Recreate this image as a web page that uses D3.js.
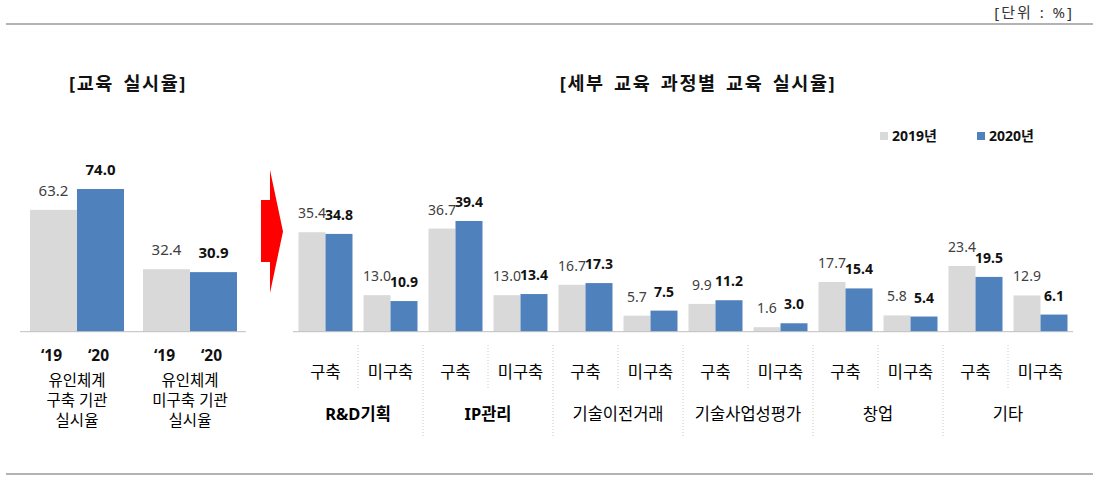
<!DOCTYPE html>
<html><head><meta charset="utf-8">
<script src="https://cdn.jsdelivr.net/npm/d3@7"></script>
<style>
html,body{margin:0;padding:0;background:#fff;}
svg{display:block;font-family:'Noto Sans','Noto Sans CJK KR',sans-serif;}
</style></head>
<body>
<svg id="c" width="1101" height="486"></svg>
<script>
// ---- data ----
const years = ['2019', '2020'];
const legendLabels = ['2019년', '2020년'];
const leftYearLabels = ['‘19', '‘20'];
const leftCategories = [['유인체계', '구축 기관', '실시율'], ['유인체계', '미구축 기관', '실시율']];
const left2019 = [63.2, 32.4];
const left2020 = [74.0, 30.9];
const groups = ['R&D기획', 'IP관리', '기술이전거래', '기술사업성평가', '창업', '기타'];
const subs = ['구축', '미구축'];
const right2019 = [35.4, 13.0, 36.7, 13.0, 16.7, 5.7, 9.9, 1.6, 17.7, 5.8, 23.4, 12.9];
const right2020 = [34.8, 10.9, 39.4, 13.4, 17.3, 7.5, 11.2, 3.0, 15.4, 5.4, 19.5, 6.1];

const colors = {'2019': '#d9d9d9', '2020': '#4f81bd'};
const svg = d3.select('#c');
const base = 331.7;

// frame lines
svg.append('line').attr('x1', 6).attr('x2', 1093).attr('y1', 24).attr('y2', 24).attr('stroke', '#9a9a9a').attr('stroke-width', 1.5);
svg.append('line').attr('x1', 6).attr('x2', 1093).attr('y1', 474).attr('y2', 474).attr('stroke', '#9a9a9a').attr('stroke-width', 1.5);
svg.append('text').attr('x', 1074).attr('y', 18).attr('text-anchor', 'end').attr('font-size', 15).attr('letter-spacing', 2).attr('word-spacing', 1).attr('fill', '#333').text('[단위 : %]');

// titles
svg.append('text').attr('x', 128).attr('y', 90).attr('text-anchor', 'middle').attr('font-size', 18.5).attr('letter-spacing', 1.6).attr('word-spacing', 3).attr('font-weight', 'bold').attr('fill', '#111').text('[교육 실시율]');
svg.append('text').attr('x', 698).attr('y', 90).attr('text-anchor', 'middle').attr('font-size', 18.5).attr('letter-spacing', 1.6).attr('word-spacing', 3).attr('font-weight', 'bold').attr('fill', '#111').text('[세부 교육 과정별 교육 실시율]');

// ---- left chart ----
const lx = d3.scaleBand().domain(leftCategories.map((d, i) => i)).range([20.5, 246.5]).padding(0);
const lxi = d3.scaleBand().domain(years).range([0, lx.bandwidth()]).paddingInner(0).paddingOuter(0.202);
const ly = d3.scaleLinear().domain([0, 80]).range([base, base - 80 * 1.928]);
const leftData = leftCategories.map((c, i) => ({i, vals: [left2019[i], left2020[i]]}));
const lg = svg.append('g');
leftData.forEach(d => {
  d.vals.forEach((v, k) => {
    const yr = years[k];
    const x = lx(d.i) + lxi(yr);
    lg.append('rect').attr('x', x).attr('y', ly(v)).attr('width', lxi.bandwidth()).attr('height', base - ly(v)).attr('fill', colors[yr]);
    lg.append('text').attr('x', x + lxi.bandwidth() / 2).attr('y', ly(v) - 14).attr('text-anchor', 'middle')
      .attr('font-size', 15).attr('font-weight', k === 1 ? 'bold' : 'normal').attr('fill', k === 1 ? '#111' : '#404040').text(v.toFixed(1));
    lg.append('text').attr('x', x + lxi.bandwidth() / 2 - 2).attr('y', 361).attr('text-anchor', 'middle')
      .attr('font-size', 15.5).attr('font-weight', 'bold').attr('fill', '#111').text(leftYearLabels[k]);
  });
  const cx = lx(d.i) + lx.bandwidth() / 2;
  const t = lg.append('text').attr('x', cx).attr('y', 385.5).attr('text-anchor', 'middle')
    .attr('font-size', 15.5).attr('fill', '#000');
  leftCategories[d.i].forEach((line, j) => {
    t.append('tspan').attr('x', cx).attr('dy', j === 0 ? 0 : 20).text(line);
  });
});
lg.append('line').attr('x1', 20).attr('x2', 246).attr('y1', base).attr('y2', base).attr('stroke', '#bfbfbf').attr('stroke-width', 1);

// arrow
svg.append('path').attr('d', 'M261,200 L270,200 L270,170 L283,231.5 L270,293 L270,262 L261,262 Z').attr('fill', '#ff0000');

// ---- right chart ----
const keys = [];
groups.forEach(g => subs.forEach(s => keys.push(g + '|' + s)));
const rx = d3.scaleBand().domain(keys).range([293, 1073]).padding(0);
const rxi = d3.scaleBand().domain(years).range([0, rx.bandwidth()]).paddingInner(0).paddingOuter(0.204);
const ry = d3.scaleLinear().domain([0, 45]).range([base, base - 45 * 2.81]);
const rg = svg.append('g');
keys.forEach((key, i) => {
  const vals = [right2019[i], right2020[i]];
  vals.forEach((v, k) => {
    const yr = years[k];
    const x = rx(key) + rxi(yr);
    rg.append('rect').attr('x', x).attr('y', ry(v)).attr('width', rxi.bandwidth()).attr('height', base - ry(v)).attr('fill', colors[yr]);
    rg.append('text').attr('x', x + rxi.bandwidth() / 2).attr('y', ry(v) - 14).attr('text-anchor', 'middle')
      .attr('font-size', 14).attr('font-weight', k === 1 ? 'bold' : 'normal').attr('fill', k === 1 ? '#111' : '#404040').text(v.toFixed(1));
  });
  const sub = key.split('|')[1];
  rg.append('text').attr('x', rx(key) + rx.bandwidth() / 2).attr('y', 378).attr('text-anchor', 'middle')
    .attr('font-size', 16.5).attr('fill', '#000').text(sub);
  if (i > 0) {
    const isGroup = i % 2 === 0;
    rg.append('line').attr('x1', rx(key)).attr('x2', rx(key)).attr('y1', 345).attr('y2', isGroup ? 437 : 390)
      .attr('stroke', '#c8c8c8').attr('stroke-width', 1).attr('stroke-dasharray', '1,2');
  }
});
groups.forEach((g, gi) => {
  const cx = rx(g + '|' + subs[1]);
  rg.append('text').attr('x', cx).attr('y', 419.5).attr('text-anchor', 'middle')
    .attr('font-size', 16.5).attr('font-weight', gi < 2 ? 'bold' : 'normal').attr('fill', '#000').text(g);
});
rg.append('line').attr('x1', 293).attr('x2', 1073).attr('y1', base).attr('y2', base).attr('stroke', '#bfbfbf').attr('stroke-width', 1);

// legend
const legX = [880, 977];
years.forEach((yr, k) => {
  svg.append('rect').attr('x', legX[k]).attr('y', 132).attr('width', 8).attr('height', 8).attr('fill', colors[yr]);
  svg.append('text').attr('x', legX[k] + 12).attr('y', 141).attr('font-size', 14).attr('font-weight', 'bold').attr('fill', '#111').text(legendLabels[k]);
});
</script>
</body></html>
